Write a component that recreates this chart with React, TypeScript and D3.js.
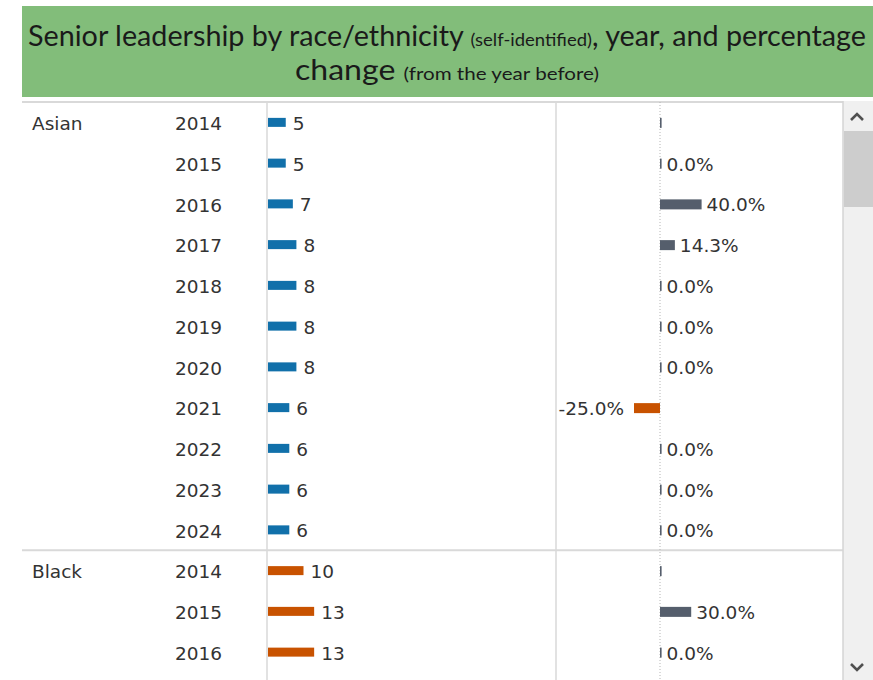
import React from "react";
import * as d3 from "d3";

const groups = ["Asian", "Black"];
const asianYears = ["2014", "2015", "2016", "2017", "2018", "2019", "2020", "2021", "2022", "2023", "2024"];
const asianCounts = [5, 5, 7, 8, 8, 8, 8, 6, 6, 6, 6];
const asianChange: (number | null)[] = [null, 0, 40, 14.3, 0, 0, 0, -25, 0, 0, 0];
const blackYears = ["2014", "2015", "2016"];
const blackCounts = [10, 13, 13];
const blackChange: (number | null)[] = [null, 30, 0];

type Row = { group: string; year: string; count: number; change: number | null; first: boolean };

const rows: Row[] = [
  ...asianYears.map((y, i) => ({ group: groups[0], year: y, count: asianCounts[i], change: asianChange[i], first: i === 0 })),
  ...blackYears.map((y, i) => ({ group: groups[1], year: y, count: blackCounts[i], change: blackChange[i], first: i === 0 })),
];

const W = 873;
const H = 680;
const TOP = 102;
const STEP = 40.75;
const FONT = "'DejaVu Sans', sans-serif";
const TEXT = "#333333";
const GRID = "#d9d9d9";
const BLUE = "#1170aa";
const ORANGE = "#c85200";
const GREY = "#555e6c";

const fmtPct = (v: number) => d3.format(".1f")(v).replace("\u2212", "-") + "%";

export default function App() {
  const y = d3
    .scaleBand<number>()
    .domain(rows.map((_, i) => i))
    .range([TOP, TOP + rows.length * STEP])
    .paddingInner(0)
    .paddingOuter(0);
  const xCount = d3.scaleLinear().domain([0, 80]).range([268, 552]);
  const xPct = d3.scaleLinear().domain([-100, 100]).range([556, 764]);
  const barH = 9;
  const sepIndex = asianYears.length;

  return (
    <svg width={W} height={H} style={{ position: "absolute", left: 0, top: 0, background: "#fff" }}>
      {/* title */}
      <rect x={22} y={6} width={W - 22} height={91} fill="#82bd7a" />
      <text
        x={447}
        y={46}
        textAnchor="middle"
        fontFamily="Lato, sans-serif"
        fill="#1a1a1a"
        textLength={838}
        lengthAdjust="spacingAndGlyphs"
      >
        <tspan fontSize={28}>Senior leadership by race/ethnicity </tspan>
        <tspan fontSize={18}>(self-identified)</tspan>
        <tspan fontSize={28}>, year, and percentage</tspan>
      </text>
      <text
        x={447}
        y={80}
        textAnchor="middle"
        fontFamily="Lato, sans-serif"
        fill="#1a1a1a"
        textLength={304}
        lengthAdjust="spacingAndGlyphs"
      >
        <tspan fontSize={28}>change </tspan>
        <tspan fontSize={18}>(from the year before)</tspan>
      </text>

      {/* grid */}
      <line x1={22} x2={843} y1={TOP} y2={TOP} stroke={GRID} strokeWidth={2} />
      <line x1={22} x2={843} y1={y(sepIndex)!} y2={y(sepIndex)!} stroke={GRID} strokeWidth={2} />
      <line x1={267} x2={267} y1={TOP} y2={H} stroke={GRID} strokeWidth={1.5} />
      <line x1={556} x2={556} y1={TOP} y2={H} stroke={GRID} strokeWidth={1.5} />
      <line x1={xPct(0)} x2={xPct(0)} y1={TOP} y2={H} stroke="#b5b5b5" strokeWidth={1} strokeDasharray="1,2" />

      {rows.map((r, i) => {
        const cy = y(i)! + y.bandwidth() / 2;
        const x0 = xCount(0);
        const x1 = xCount(r.count);
        const c = r.change;
        const p0 = xPct(0);
        const pv = xPct(c ?? 0);
        const pl = Math.min(p0, pv);
        const pw = Math.max(Math.abs(pv - p0), 1.6);
        const pColor = c !== null && c < 0 ? ORANGE : GREY;
        return (
          <g key={i} fontFamily={FONT} fontSize={18.5} fill={TEXT}>
            {r.first && (
              <text x={32} y={cy} dy="0.42em">
                {r.group}
              </text>
            )}
            <text x={222} y={cy} dy="0.42em" textAnchor="end">
              {r.year}
            </text>
            <rect x={x0} y={cy - barH / 2} width={x1 - x0} height={barH} fill={r.group === "Asian" ? BLUE : ORANGE} />
            <text x={x1 + 7} y={cy} dy="0.4em">
              {r.count}
            </text>
            <rect x={pl} y={cy - barH / 2} width={pw} height={barH + 1} fill={pColor} />
            {c !== null && (
              <text
                x={c < 0 ? pl - 10 : pl + pw + 5}
                y={cy}
                dy="0.4em"
                textAnchor={c < 0 ? "end" : "start"}
              >
                {fmtPct(c)}
              </text>
            )}
          </g>
        );
      })}

      {/* scrollbar */}
      <rect x={843} y={TOP - 1} width={30} height={H - TOP + 1} fill="#f0f0f0" />
      <line x1={843} x2={843} y1={TOP - 1} y2={H} stroke="#d4d4d4" strokeWidth={1.5} />
      <rect x={844} y={131} width={29} height={76} fill="#cdcdcd" />
      <path d="M851,120 L857,114 L863,120" fill="none" stroke="#505050" strokeWidth={2.6} />
      <path d="M851,664 L857,670 L863,664" fill="none" stroke="#505050" strokeWidth={2.6} />
    </svg>
  );
}
